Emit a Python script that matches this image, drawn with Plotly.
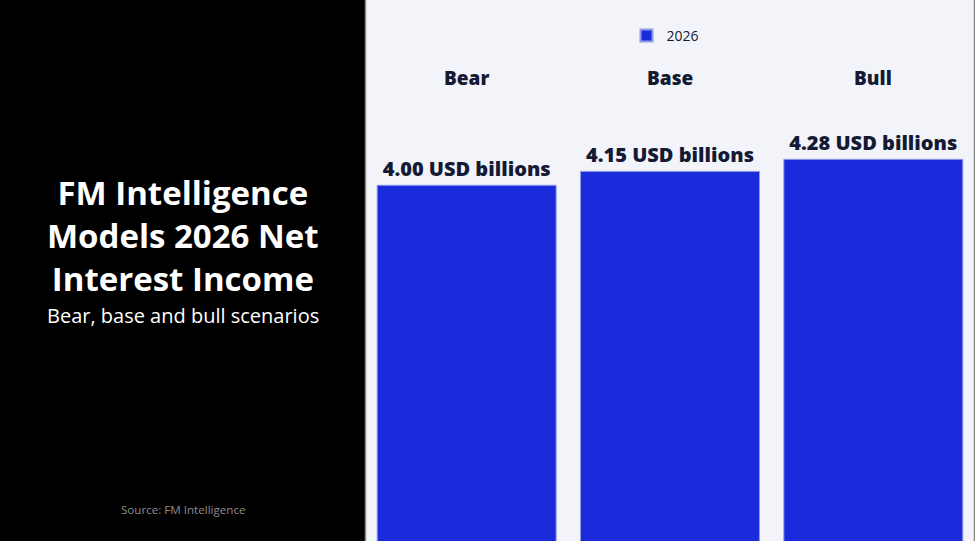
import plotly.graph_objects as go

categories = ["Bear", "Base", "Bull"]
values = [4.00, 4.15, 4.28]
value_labels = ["4.00 USD billions", "4.15 USD billions", "4.28 USD billions"]
series_name = "2026"
title_lines = ["FM Intelligence", "Models 2026 Net", "Interest Income"]
subtitle = "Bear, base and bull scenarios"
source = "Source: FM Intelligence"

W, H = 975, 541
LEFT = 365
FONT = "Open Sans, Noto Sans, sans-serif"
BAR = "#1a2bdb"
DARK = "#141a33"
PANEL = "#f3f4f9"

fig = go.Figure()
fig.add_trace(go.Bar(
    x=categories, y=values, name=series_name,
    marker=dict(color=BAR, line=dict(color="#8f9ae8", width=1)),
    text=value_labels, textposition="outside",
    textfont=dict(family=FONT, size=20, color=DARK, weight=800),
    cliponaxis=False, showlegend=True,
))

annotations = []
for c in categories:
    annotations.append(dict(x=c, xref="x", y=1 - 78 / H, yref="paper",
                            text=c, showarrow=False,
                            font=dict(family=FONT, size=19, color=DARK, weight=800),
                            xanchor="center", yanchor="middle"))
annotations.append(dict(x=183 / W, xref="paper", y=1 - 236 / H, yref="paper",
                        text="<br>".join(title_lines), showarrow=False, align="center",
                        font=dict(family=FONT, size=33, color="white", weight=700),
                        xanchor="center", yanchor="middle"))
annotations.append(dict(x=183 / W, xref="paper", y=1 - 315 / H, yref="paper",
                        text=subtitle, showarrow=False,
                        font=dict(family=FONT, size=20, color="white"),
                        xanchor="center", yanchor="middle"))
annotations.append(dict(x=183 / W, xref="paper", y=1 - 509 / H, yref="paper",
                        text=source, showarrow=False,
                        font=dict(family=FONT, size=11.6, color="#8c8c8c"),
                        xanchor="center", yanchor="middle"))

shapes = [
    dict(type="rect", xref="paper", yref="paper", x0=0, x1=LEFT / W, y0=0, y1=1,
         fillcolor="black", line=dict(width=0), layer="below"),
    dict(type="line", xref="paper", yref="paper", x0=(LEFT + 0.5) / W, x1=(LEFT + 0.5) / W,
         y0=0, y1=1, line=dict(color="#8a8a8a", width=1.5)),
    dict(type="line", xref="paper", yref="paper", x0=(W - 0.5) / W, x1=(W - 0.5) / W,
         y0=0, y1=1, line=dict(color="#8a8a8a", width=1.5)),
]

fig.update_layout(
    width=W, height=H,
    margin=dict(l=0, r=0, t=0, b=0),
    paper_bgcolor=PANEL, plot_bgcolor=PANEL,
    bargap=0.12,
    xaxis=dict(domain=[LEFT / W, 1], showticklabels=False, showgrid=False,
               zeroline=False, showline=False, fixedrange=True),
    yaxis=dict(range=[0.16, 6.0], showticklabels=False, showgrid=False,
               zeroline=False, showline=False, fixedrange=True),
    legend=dict(orientation="h", x=665.5 / W, xanchor="center", y=1 - 36 / H, yanchor="middle",
                font=dict(family=FONT, size=14, color=DARK), bgcolor="rgba(0,0,0,0)",
                itemsizing="constant"),
    annotations=annotations, shapes=shapes,
    uniformtext=dict(mode=False),
)

fig.write_html("out.html")
